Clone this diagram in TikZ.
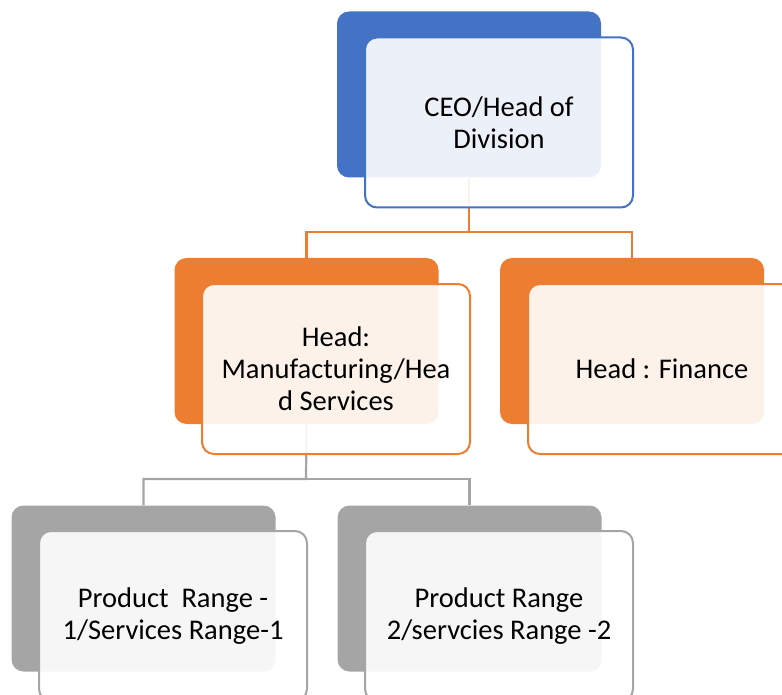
\documentclass[tikz,border=0pt]{standalone}
\usepackage{fontspec}
\setmainfont{Carlito}
\definecolor{cblue}{HTML}{4472C4}
\definecolor{corange}{HTML}{ED7D31}
\definecolor{cgray}{HTML}{A5A5A5}
\begin{document}
\begin{tikzpicture}[x=1pt,y=-1pt,
  backbox/.style={rectangle, rounded corners=12pt, minimum width=264pt, minimum height=166pt, inner sep=0pt, draw=none, fill=#1},
  frontbox/.style={rectangle, rounded corners=12pt, minimum width=268pt, minimum height=170pt, inner sep=0pt, line width=2pt, draw=#1, fill=white, fill opacity=0.9, text opacity=1, align=center, font=\fontsize{28.5}{32}\selectfont},
  conn/.style={line width=2.2pt, draw=#1}]
\useasboundingbox (0,0) rectangle (782,695);
% back boxes
\node[backbox=cblue] (ceoB) at (469,94.5) {};
\node[backbox=corange] (mfgB) at (306.5,341) {};
\node[backbox=corange] (finB) at (632,341) {};
\node[backbox=cgray] (p1B) at (143.5,588.5) {};
\node[backbox=cgray] (p2B) at (469.5,588.5) {};
% connectors
\coordinate (j1) at (469,232);
\coordinate (j2) at (306,479);
\draw[conn=corange] (ceoB.south) -- (j1) -| (mfgB.north);
\draw[conn=corange] (j1) -| (finB.north);
\draw[conn=cgray] (mfgB.south) -- (j2) -| (p1B.north);
\draw[conn=cgray] (j2) -| (p2B.north);
% front boxes
\node[frontbox=cblue] (ceo) at (499,122.5) {CEO/Head of\\Division};
\node[frontbox=corange] (mfg) at (336,369) {Head:\\Manufacturing/Hea\\d Services};
\node[frontbox=corange] (fin) at (662,369) {Head : Finance};
\node[frontbox=cgray] (p1) at (173,616) {Product\ \ Range -\\1/Services Range-1};
\node[frontbox=cgray] (p2) at (499,616) {Product Range\\2/servcies Range -2};
\end{tikzpicture}
\end{document}
